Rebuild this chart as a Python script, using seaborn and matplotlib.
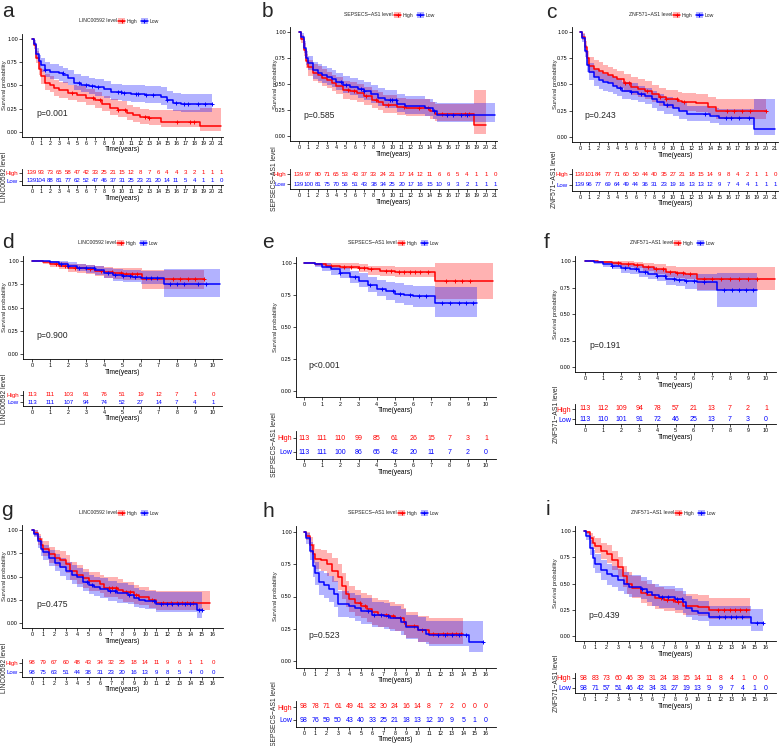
import numpy as np
import pandas as pd
import matplotlib
matplotlib.use('Agg')
import matplotlib.pyplot as plt
from matplotlib.patches import Patch
from matplotlib.lines import Line2D
from matplotlib.legend_handler import HandlerTuple
import seaborn as sns

sns.set_theme(style='ticks')
plt.rcParams['font.family'] = ['Liberation Sans', 'DejaVu Sans']

W, H = 780, 746
RED = '#FF0000'
BLUE = '#0000FF'

# ---- survival curves: (time, surv, lower, upper) ----
a_high = [(0, 1, 1, 1), (0.2, 0.93, 0.89, 0.97), (0.5, 0.80, 0.74, 0.87), (0.8, 0.68, 0.61, 0.76),
          (1.0, 0.60, 0.52, 0.68), (1.5, 0.53, 0.45, 0.62), (2.0, 0.51, 0.43, 0.60), (2.5, 0.47, 0.39, 0.56),
          (3.0, 0.45, 0.37, 0.54), (4.0, 0.42, 0.34, 0.51), (5.0, 0.40, 0.32, 0.49), (6.0, 0.37, 0.29, 0.46),
          (7.0, 0.34, 0.26, 0.43), (7.8, 0.30, 0.22, 0.39), (8.7, 0.26, 0.18, 0.35), (9.5, 0.24, 0.16, 0.33),
          (10.5, 0.20, 0.13, 0.29), (11.2, 0.18, 0.11, 0.27), (12.0, 0.16, 0.09, 0.25), (13.0, 0.15, 0.08, 0.24),
          (14.3, 0.11, 0.05, 0.24), (18.7, 0.06, 0.01, 0.26), (21.0, 0.06, 0.01, 0.26)]
a_low = [(0, 1, 1, 1), (0.2, 0.95, 0.92, 0.99), (0.5, 0.84, 0.78, 0.90), (0.8, 0.76, 0.69, 0.83),
         (1.0, 0.72, 0.65, 0.79), (1.5, 0.67, 0.59, 0.75), (2.0, 0.65, 0.57, 0.73), (3.0, 0.63, 0.55, 0.71),
         (3.5, 0.61, 0.53, 0.69), (4.0, 0.58, 0.50, 0.67), (4.7, 0.53, 0.45, 0.62), (5.5, 0.51, 0.43, 0.60),
         (6.3, 0.49, 0.41, 0.58), (7.0, 0.48, 0.39, 0.57), (8.0, 0.46, 0.37, 0.55), (8.8, 0.43, 0.34, 0.52),
         (10.0, 0.42, 0.33, 0.51), (11.0, 0.41, 0.32, 0.50), (12.5, 0.40, 0.31, 0.49), (14.3, 0.38, 0.29, 0.48),
         (15.0, 0.34, 0.25, 0.44), (15.7, 0.31, 0.22, 0.42), (16.5, 0.30, 0.21, 0.41), (20.0, 0.30, 0.21, 0.41)]
b_high = [(0, 1, 1, 1), (0.2, 0.93, 0.89, 0.97), (0.5, 0.83, 0.77, 0.89), (0.8, 0.72, 0.65, 0.79),
          (1.0, 0.66, 0.58, 0.73), (1.5, 0.61, 0.53, 0.69), (2.0, 0.59, 0.51, 0.67), (2.5, 0.56, 0.48, 0.64),
          (3.0, 0.54, 0.46, 0.62), (3.5, 0.51, 0.43, 0.59), (4.0, 0.48, 0.40, 0.57), (4.7, 0.44, 0.36, 0.53),
          (5.5, 0.43, 0.35, 0.52), (6.2, 0.41, 0.33, 0.50), (7.0, 0.38, 0.30, 0.47), (7.8, 0.35, 0.27, 0.44),
          (8.5, 0.33, 0.25, 0.42), (9.0, 0.30, 0.22, 0.39), (10.5, 0.28, 0.20, 0.37), (11.5, 0.27, 0.19, 0.36),
          (14.0, 0.24, 0.16, 0.33), (14.6, 0.21, 0.14, 0.31), (18.7, 0.11, 0.02, 0.44), (20.0, 0.11, 0.02, 0.44)]
b_low = [(0, 1, 1, 1), (0.2, 0.95, 0.92, 0.99), (0.5, 0.85, 0.80, 0.91), (0.8, 0.75, 0.68, 0.82),
         (1.0, 0.70, 0.63, 0.77), (1.5, 0.63, 0.55, 0.71), (2.0, 0.61, 0.53, 0.69), (2.5, 0.59, 0.51, 0.67),
         (3.0, 0.57, 0.49, 0.65), (3.5, 0.55, 0.47, 0.63), (4.0, 0.52, 0.44, 0.61), (4.7, 0.49, 0.41, 0.58),
         (5.5, 0.47, 0.39, 0.56), (6.3, 0.45, 0.37, 0.54), (7.0, 0.43, 0.35, 0.52), (7.7, 0.40, 0.32, 0.49),
         (8.5, 0.37, 0.29, 0.46), (9.2, 0.35, 0.27, 0.44), (10.5, 0.31, 0.23, 0.40), (11.3, 0.29, 0.21, 0.38),
         (13.5, 0.27, 0.19, 0.36), (14.3, 0.24, 0.16, 0.33), (14.8, 0.20, 0.13, 0.32), (21.0, 0.20, 0.13, 0.32)]
c_high = [(0, 1, 1, 1), (0.2, 0.95, 0.92, 0.99), (0.5, 0.86, 0.80, 0.91), (0.8, 0.75, 0.68, 0.82),
          (1.0, 0.68, 0.61, 0.76), (1.5, 0.65, 0.57, 0.73), (2.0, 0.63, 0.55, 0.71), (2.5, 0.61, 0.53, 0.69),
          (3.0, 0.59, 0.51, 0.67), (3.5, 0.57, 0.49, 0.65), (4.0, 0.55, 0.47, 0.63), (4.7, 0.51, 0.43, 0.60),
          (5.5, 0.48, 0.40, 0.57), (6.2, 0.46, 0.38, 0.55), (7.0, 0.44, 0.36, 0.53), (7.7, 0.41, 0.33, 0.50),
          (8.5, 0.38, 0.30, 0.47), (9.2, 0.36, 0.28, 0.45), (10.5, 0.34, 0.26, 0.43), (11.0, 0.33, 0.25, 0.42),
          (12.5, 0.32, 0.24, 0.41), (13.8, 0.29, 0.21, 0.38), (14.6, 0.25, 0.17, 0.36), (20.0, 0.25, 0.17, 0.36)]
c_low = [(0, 1, 1, 1), (0.2, 0.94, 0.90, 0.98), (0.5, 0.82, 0.76, 0.88), (0.8, 0.69, 0.62, 0.76),
         (1.0, 0.62, 0.54, 0.70), (1.5, 0.57, 0.49, 0.65), (2.0, 0.54, 0.46, 0.62), (2.5, 0.52, 0.44, 0.60),
         (3.0, 0.51, 0.43, 0.59), (3.5, 0.49, 0.41, 0.57), (4.0, 0.47, 0.39, 0.55), (4.5, 0.44, 0.36, 0.52),
         (5.5, 0.43, 0.35, 0.51), (6.2, 0.41, 0.33, 0.49), (7.0, 0.39, 0.31, 0.47), (7.7, 0.36, 0.28, 0.44),
         (8.3, 0.33, 0.25, 0.41), (9.0, 0.30, 0.22, 0.38), (10.0, 0.28, 0.20, 0.36), (10.7, 0.25, 0.17, 0.33),
         (11.5, 0.22, 0.15, 0.30), (14.0, 0.20, 0.13, 0.28), (15.0, 0.18, 0.11, 0.27), (18.7, 0.08, 0.02, 0.36),
         (21.0, 0.08, 0.02, 0.36)]
d_high = [(0, 1, 1, 1), (0.6, 0.99, 0.97, 1.0), (1.0, 0.97, 0.94, 1.0), (1.5, 0.95, 0.91, 0.99),
          (2.0, 0.93, 0.88, 0.97), (2.5, 0.92, 0.87, 0.97), (3.0, 0.91, 0.86, 0.96), (3.5, 0.89, 0.84, 0.95),
          (4.0, 0.88, 0.82, 0.94), (4.5, 0.87, 0.81, 0.93), (5.0, 0.86, 0.80, 0.93), (6.1, 0.81, 0.70, 0.90),
          (9.5, 0.81, 0.70, 0.90)]
d_low = [(0, 1, 1, 1), (1.0, 0.99, 0.97, 1.0), (1.5, 0.97, 0.94, 1.0), (2.0, 0.95, 0.92, 0.99),
         (2.5, 0.93, 0.89, 0.97), (3.0, 0.92, 0.87, 0.96), (3.5, 0.90, 0.85, 0.95), (4.0, 0.87, 0.82, 0.93),
         (4.5, 0.85, 0.79, 0.91), (5.0, 0.84, 0.78, 0.90), (5.5, 0.83, 0.77, 0.90), (6.0, 0.82, 0.75, 0.89),
         (7.3, 0.75, 0.61, 0.91), (10.4, 0.75, 0.61, 0.91)]
e_high = [(0, 1, 1, 1), (0.6, 0.99, 0.98, 1.0), (1.2, 0.98, 0.96, 1.0), (2.0, 0.97, 0.95, 1.0),
          (3.0, 0.96, 0.93, 0.99), (3.5, 0.95, 0.91, 0.98), (4.2, 0.94, 0.90, 0.98), (5.0, 0.93, 0.89, 0.97),
          (7.2, 0.86, 0.72, 1.0), (10.4, 0.86, 0.72, 1.0)]
e_low = [(0, 1, 1, 1), (0.6, 0.99, 0.97, 1.0), (1.0, 0.97, 0.94, 1.0), (1.5, 0.95, 0.91, 0.98),
         (2.0, 0.92, 0.88, 0.96), (2.5, 0.89, 0.84, 0.94), (3.0, 0.86, 0.81, 0.92), (3.5, 0.83, 0.77, 0.89),
         (4.0, 0.80, 0.74, 0.87), (4.5, 0.78, 0.71, 0.85), (5.0, 0.76, 0.69, 0.84), (5.5, 0.75, 0.67, 0.83),
         (6.0, 0.74, 0.66, 0.82), (7.2, 0.69, 0.58, 0.81), (9.5, 0.69, 0.58, 0.81)]
f_high = [(0, 1, 1, 1), (0.7, 0.99, 0.98, 1.0), (1.5, 0.98, 0.96, 1.0), (2.0, 0.97, 0.94, 1.0),
          (2.7, 0.96, 0.93, 0.99), (3.2, 0.94, 0.91, 0.98), (3.8, 0.92, 0.88, 0.97), (4.5, 0.90, 0.85, 0.95),
          (5.0, 0.89, 0.84, 0.94), (5.5, 0.88, 0.83, 0.94), (6.2, 0.83, 0.73, 0.94), (10.5, 0.83, 0.73, 0.94)]
f_low = [(0, 1, 1, 1), (0.5, 0.99, 0.97, 1.0), (1.0, 0.97, 0.94, 1.0), (1.5, 0.95, 0.92, 0.99),
         (2.0, 0.93, 0.89, 0.97), (2.5, 0.92, 0.88, 0.96), (3.0, 0.90, 0.85, 0.95), (3.5, 0.88, 0.83, 0.94),
         (4.0, 0.86, 0.81, 0.92), (4.5, 0.83, 0.77, 0.90), (5.0, 0.82, 0.76, 0.89), (5.5, 0.81, 0.74, 0.88),
         (6.2, 0.80, 0.72, 0.88), (7.3, 0.73, 0.57, 0.89), (9.5, 0.73, 0.57, 0.89)]
g_high = [(0, 1, 1, 1), (0.2, 0.97, 0.94, 1.0), (0.5, 0.90, 0.84, 0.96), (0.8, 0.84, 0.77, 0.91),
          (1.0, 0.80, 0.72, 0.88), (1.5, 0.74, 0.65, 0.82), (2.0, 0.70, 0.61, 0.79), (2.5, 0.68, 0.59, 0.77),
          (3.0, 0.63, 0.54, 0.73), (3.4, 0.56, 0.46, 0.66), (4.0, 0.52, 0.42, 0.62), (4.5, 0.48, 0.38, 0.58),
          (5.0, 0.45, 0.35, 0.55), (6.0, 0.42, 0.32, 0.52), (6.4, 0.38, 0.28, 0.49), (7.6, 0.36, 0.26, 0.47),
          (8.0, 0.33, 0.23, 0.44), (9.0, 0.30, 0.20, 0.41), (9.5, 0.28, 0.19, 0.39), (10.3, 0.25, 0.16, 0.36),
          (11.0, 0.22, 0.14, 0.34), (15.7, 0.22, 0.14, 0.34)]
g_low = [(0, 1, 1, 1), (0.2, 0.96, 0.92, 1.0), (0.5, 0.88, 0.81, 0.94), (0.8, 0.80, 0.72, 0.88),
         (1.0, 0.76, 0.68, 0.84), (1.5, 0.70, 0.61, 0.79), (2.0, 0.65, 0.56, 0.74), (2.5, 0.60, 0.51, 0.70),
         (3.0, 0.56, 0.46, 0.66), (3.5, 0.52, 0.42, 0.62), (4.0, 0.49, 0.39, 0.59), (4.5, 0.44, 0.34, 0.55),
         (5.0, 0.41, 0.31, 0.52), (5.5, 0.39, 0.29, 0.50), (6.0, 0.37, 0.27, 0.48), (6.7, 0.34, 0.24, 0.45),
         (7.5, 0.32, 0.22, 0.43), (8.5, 0.30, 0.20, 0.41), (9.0, 0.27, 0.17, 0.38), (9.5, 0.25, 0.16, 0.36),
         (10.0, 0.24, 0.15, 0.35), (11.0, 0.20, 0.12, 0.33), (14.6, 0.14, 0.05, 0.33), (15.0, 0.14, 0.05, 0.33)]
h_high = [(0, 1, 1, 1), (0.2, 0.97, 0.94, 1.0), (0.5, 0.90, 0.84, 0.96), (0.8, 0.83, 0.76, 0.91),
          (1.0, 0.79, 0.71, 0.87), (1.5, 0.78, 0.70, 0.86), (2.0, 0.75, 0.66, 0.84), (2.5, 0.70, 0.61, 0.80),
          (3.0, 0.65, 0.55, 0.75), (3.3, 0.58, 0.48, 0.68), (3.7, 0.52, 0.42, 0.62), (4.0, 0.48, 0.38, 0.58),
          (4.5, 0.45, 0.35, 0.55), (5.0, 0.43, 0.33, 0.53), (5.5, 0.40, 0.30, 0.51), (6.0, 0.38, 0.28, 0.49),
          (6.5, 0.36, 0.26, 0.47), (7.5, 0.35, 0.25, 0.46), (8.0, 0.33, 0.23, 0.44), (8.8, 0.30, 0.20, 0.41),
          (9.0, 0.27, 0.18, 0.38), (10.0, 0.24, 0.15, 0.35), (11.0, 0.21, 0.13, 0.33), (14.0, 0.21, 0.13, 0.33)]
h_low = [(0, 1, 1, 1), (0.2, 0.95, 0.91, 0.99), (0.5, 0.85, 0.78, 0.92), (0.8, 0.74, 0.65, 0.82),
         (1.0, 0.68, 0.59, 0.77), (1.3, 0.61, 0.51, 0.70), (1.8, 0.59, 0.49, 0.68), (2.2, 0.56, 0.46, 0.66),
         (2.6, 0.52, 0.42, 0.62), (3.0, 0.44, 0.34, 0.54), (4.0, 0.43, 0.33, 0.53), (4.5, 0.41, 0.31, 0.51),
         (5.0, 0.39, 0.29, 0.49), (6.0, 0.36, 0.26, 0.46), (7.0, 0.35, 0.25, 0.45), (7.6, 0.33, 0.23, 0.43),
         (8.5, 0.30, 0.20, 0.40), (9.0, 0.26, 0.17, 0.36), (10.0, 0.24, 0.15, 0.34), (10.7, 0.21, 0.13, 0.31),
         (11.0, 0.20, 0.12, 0.31), (14.5, 0.15, 0.07, 0.31), (15.7, 0.15, 0.07, 0.31)]
i_high = [(0, 1, 1, 1), (0.2, 0.99, 0.97, 1.0), (0.5, 0.93, 0.88, 0.98), (0.8, 0.89, 0.83, 0.95),
          (1.0, 0.86, 0.79, 0.93), (1.5, 0.81, 0.73, 0.89), (2.0, 0.78, 0.70, 0.87), (2.5, 0.72, 0.63, 0.81),
          (3.0, 0.66, 0.56, 0.75), (3.4, 0.57, 0.47, 0.67), (3.8, 0.50, 0.40, 0.61), (4.2, 0.46, 0.36, 0.57),
          (5.0, 0.41, 0.31, 0.52), (5.5, 0.39, 0.29, 0.50), (6.2, 0.36, 0.26, 0.47), (7.0, 0.34, 0.24, 0.45),
          (8.0, 0.32, 0.22, 0.43), (8.7, 0.29, 0.20, 0.40), (10.0, 0.28, 0.19, 0.39), (11.0, 0.25, 0.16, 0.36),
          (14.6, 0.25, 0.16, 0.36)]
i_low = [(0, 1, 1, 1), (0.2, 0.95, 0.91, 0.99), (0.5, 0.84, 0.77, 0.91), (0.8, 0.74, 0.65, 0.82),
         (1.0, 0.69, 0.60, 0.78), (1.5, 0.63, 0.53, 0.72), (2.0, 0.59, 0.49, 0.69), (2.5, 0.57, 0.47, 0.67),
         (3.0, 0.53, 0.43, 0.64), (3.5, 0.50, 0.40, 0.61), (4.0, 0.47, 0.37, 0.58), (5.0, 0.45, 0.35, 0.56),
         (5.5, 0.42, 0.32, 0.53), (6.0, 0.39, 0.29, 0.50), (6.6, 0.37, 0.27, 0.48), (8.0, 0.35, 0.25, 0.46),
         (8.7, 0.32, 0.22, 0.43), (9.0, 0.27, 0.18, 0.38), (9.5, 0.24, 0.15, 0.35), (10.0, 0.22, 0.14, 0.33),
         (11.0, 0.18, 0.10, 0.29), (14.7, 0.12, 0.05, 0.26), (15.7, 0.12, 0.05, 0.26)]

# censoring times (+ marks)
a_high_cens = [4.5, 6.8, 7.5, 9.5, 10.3, 12.6, 13.0, 16.1, 17.5, 18.0]
a_low_cens = [1.5, 3.4, 5.2, 6.0, 6.7, 7.3, 9.6, 9.9, 10.2, 11.5, 11.8, 12.7, 13.4, 15.0, 16.0, 16.9, 17.3, 18.4, 19.2, 20.0]
b_high_cens = [5.2, 5.9, 7.2, 8.3, 9.5, 11.2, 12.9, 13.8, 15.3, 17.8, 18.2]
b_low_cens = [4.5, 5.0, 6.6, 7.0, 9.7, 10.0, 10.4, 14.5, 15.8, 16.5, 17.3, 18.0]
c_high_cens = [4.8, 5.3, 7.2, 8.6, 9.3, 10.4, 11.2, 15.8, 16.6, 17.4, 18.3, 20.0]
c_low_cens = [4.3, 5.5, 6.6, 9.4, 13.5, 15.7, 16.2, 17.1, 18.2]
d_high_cens = [1.3, 1.8, 2.4, 3.2, 3.8, 4.4, 4.9, 5.2, 5.5, 5.8, 7.8, 8.2, 8.6, 9.0, 9.5]
d_low_cens = [1.6, 2.0, 2.6, 3.0, 3.4, 4.2, 4.6, 5.0, 5.4, 5.7, 6.3, 6.6, 6.9, 7.6, 8.0, 8.4, 9.2, 9.6]
e_high_cens = [1.5, 2.2, 2.6, 3.0, 3.3, 3.7, 4.5, 4.8, 5.2, 5.5, 5.8, 6.1, 6.4, 6.8, 7.8, 8.3, 8.7, 9.1]
e_low_cens = [2.0, 2.8, 3.6, 4.3, 4.9, 5.3, 5.8, 6.3, 6.7, 7.6, 8.0, 8.5, 8.9, 9.3]
f_high_cens = [1.8, 2.4, 2.9, 3.5, 3.9, 4.3, 4.7, 5.1, 5.4, 5.8, 6.6, 7.0, 7.5, 8.0, 8.5, 9.0, 9.5]
f_low_cens = [1.5, 2.2, 2.8, 3.3, 4.0, 4.4, 4.9, 5.2, 5.6, 6.0, 6.6, 7.7, 8.1, 8.5, 8.9, 9.3]
g_high_cens = [6.8, 7.1, 7.4, 8.3, 8.7, 9.2, 10.6, 11.6, 12.3, 12.8, 13.3, 13.7, 14.2]
g_low_cens = [4.9, 5.3, 6.9, 7.3, 8.6, 10.8, 11.4, 11.9, 12.4, 12.9, 13.5, 14.0, 14.8, 15.0]
h_high_cens = [4.9, 5.4, 7.2, 7.8, 8.4, 8.8, 9.7, 10.4, 11.3, 12.2, 12.6, 13.0, 13.4, 13.8]
h_low_cens = [5.6, 6.2, 6.8, 7.4, 11.8, 12.4, 13.0, 13.6, 14.2, 15.7]
i_high_cens = [6.8, 7.3, 7.8, 8.3, 11.8, 12.3, 12.8, 13.3, 13.7, 14.2]
i_low_cens = [5.1, 5.5, 6.9, 7.4, 8.2, 8.6, 11.9, 12.4, 12.9, 13.4, 13.9, 15.2, 15.7]

# numbers at risk
a_risk_high = [139, 93, 73, 65, 58, 47, 42, 33, 25, 21, 15, 12, 8, 7, 6, 4, 4, 3, 2, 1, 1, 1]
a_risk_low = [139, 104, 88, 81, 77, 62, 52, 47, 46, 37, 31, 25, 23, 21, 20, 14, 11, 5, 4, 1, 1, 0]
b_risk_high = [139, 97, 80, 71, 65, 53, 43, 37, 33, 24, 21, 17, 14, 12, 11, 6, 6, 5, 4, 1, 1, 0]
b_risk_low = [139, 100, 81, 75, 70, 56, 51, 43, 38, 34, 25, 20, 17, 16, 15, 10, 9, 3, 2, 1, 1, 1]
c_risk_high = [139, 101, 84, 77, 71, 60, 50, 44, 40, 35, 27, 21, 18, 15, 14, 9, 8, 4, 2, 1, 1, 0]
c_risk_low = [139, 96, 77, 69, 64, 49, 44, 36, 31, 23, 19, 16, 13, 13, 12, 9, 7, 4, 4, 1, 1, 1]
d_risk_high = [113, 111, 103, 91, 76, 51, 19, 12, 7, 1, 0]
d_risk_low = [113, 111, 107, 94, 74, 52, 27, 14, 7, 4, 1]
e_risk_high = [113, 111, 110, 99, 85, 61, 26, 15, 7, 3, 1]
e_risk_low = [113, 111, 100, 86, 65, 42, 20, 11, 7, 2, 0]
f_risk_high = [113, 112, 109, 94, 78, 57, 21, 13, 7, 2, 1]
f_risk_low = [113, 110, 101, 91, 72, 46, 25, 13, 7, 3, 0]
g_risk_high = [98, 79, 67, 60, 48, 43, 34, 32, 25, 18, 14, 11, 9, 6, 1, 1, 0]
g_risk_low = [98, 75, 63, 51, 44, 38, 31, 23, 20, 16, 13, 9, 8, 5, 4, 0, 0]
h_risk_high = [98, 78, 71, 61, 49, 41, 32, 30, 24, 16, 14, 8, 7, 2, 0, 0, 0]
h_risk_low = [98, 76, 59, 50, 43, 40, 33, 25, 21, 18, 13, 12, 10, 9, 5, 1, 0]
i_risk_high = [98, 83, 73, 60, 46, 39, 31, 24, 18, 15, 14, 11, 8, 4, 1, 0, 0]
i_risk_low = [98, 71, 57, 51, 46, 42, 34, 31, 27, 19, 13, 9, 9, 7, 4, 1, 0]

genes = ['LINC00592', 'SEPSECS\u2212AS1', 'ZNF571\u2212AS1']
pvals = ['p=0.001', 'p=0.585', 'p=0.243', 'p=0.900', 'p<0.001', 'p=0.191', 'p=0.475', 'p=0.523', 'p=0.439']
letters = list('abcdefghi')
xmax = [21, 21, 21, 10, 10, 10, 16, 16, 16]

curves = [(a_high, a_low), (b_high, b_low), (c_high, c_low), (d_high, d_low), (e_high, e_low),
          (f_high, f_low), (g_high, g_low), (h_high, h_low), (i_high, i_low)]
cens = [(a_high_cens, a_low_cens), (b_high_cens, b_low_cens), (c_high_cens, c_low_cens),
        (d_high_cens, d_low_cens), (e_high_cens, e_low_cens), (f_high_cens, f_low_cens),
        (g_high_cens, g_low_cens), (h_high_cens, h_low_cens), (i_high_cens, i_low_cens)]
risks = [(a_risk_high, a_risk_low), (b_risk_high, b_risk_low), (c_risk_high, c_risk_low),
         (d_risk_high, d_risk_low), (e_risk_high, e_risk_low), (f_risk_high, f_risk_low),
         (g_risk_high, g_risk_low), (h_risk_high, h_risk_low), (i_risk_high, i_risk_low)]

# ---- layout in pixels: km box, xlim, risk box, letter pos, legend pos, label x, risk font ----
km_box = [(22, 34.3, 223, 136.6), (290, 26.8, 497, 141.2), (572, 26.75, 778, 142.25),
          (23, 256.4, 222, 358.7), (296, 256.6, 496, 397.4), (575, 255.7, 776, 372.3),
          (22, 525.4, 223, 627.7), (296, 525.5, 496, 667.5), (575, 525.75, 776, 641.25)]
xlims = [(-1.1, 21.2), (-0.96, 21.2), (-0.86, 21.3), (-0.5, 10.5), (-0.44, 10.55), (-0.55, 10.55),
         (-0.88, 16.88), (-0.7, 16.88), (-0.79, 16.88)]
risk_box = [(22, 169, 223, 185), (290, 169, 497, 189), (572, 168.5, 778, 190.5),
            (23, 391.5, 222, 405.5), (296, 431, 496, 459), (575, 404, 776, 424),
            (22, 658.5, 223, 676.5), (296, 700.5, 496, 726.5), (575, 673, 776, 693)]
letter_pos = [(2, 17), (262, 17), (546, 18), (2, 248), (262, 248), (544, 248), (1, 516), (262, 517), (546, 515)]
legend_pos = [(117, 21), (393, 15), (672, 15), (116, 243), (397, 243), (673, 243), (117, 513), (397, 513), (674, 513)]
label_x = [5, 275, 555, 5, 275, 556, 5, 275, 556]
risk_fs = [4.4, 4.4, 4.4, 4.4, 5.0, 5.0, 4.4, 5.0, 5.0]

TICK_FS = 3.9
LAB_FS = 4.8
LEG_FS = 3.7


def fbox(l, t, r, b):
    return [l / W, 1 - b / H, (r - l) / W, (b - t) / H]


def style_axis(ax):
    for s in ['top', 'right']:
        ax.spines[s].set_visible(False)
    for s in ['left', 'bottom']:
        ax.spines[s].set_linewidth(0.6)
        ax.spines[s].set_color('black')
    ax.tick_params(length=2, width=0.5, pad=1, labelsize=TICK_FS, colors='black')


fig = plt.figure(figsize=(W / 100, H / 100), dpi=100)

for k in range(9):
    gene = genes[k % 3]
    km = fig.add_axes(fbox(*km_box[k]))
    style_axis(km)
    for data, cz, col in [(curves[k][0], cens[k][0], RED), (curves[k][1], cens[k][1], BLUE)]:
        df = pd.DataFrame(data, columns=['t', 's', 'lo', 'up'])
        km.fill_between(df['t'], df['lo'], df['up'], step='post', color=col, alpha=0.3, lw=0)
        sns.lineplot(data=df, x='t', y='s', drawstyle='steps-post', color=col, lw=1.1,
                     estimator=None, sort=False, ax=km)
        idx = np.searchsorted(df['t'].values, cz, side='right') - 1
        km.plot(cz, df['s'].values[idx], '+', color=col, ms=3.5, mew=0.7)
    km.set_xlim(*xlims[k])
    km.set_ylim(-0.05, 1.05)
    km.set_xticks(range(0, xmax[k] + 1))
    km.set_yticks([0, 0.25, 0.5, 0.75, 1.0])
    km.set_yticklabels(['0.00', '0.25', '0.50', '0.75', '1.00'])
    km.set_ylabel('')
    km.set_xlabel('Time(years)', fontsize=LAB_FS, labelpad=0.5, color='black')
    km.text(0.025 * xmax[k], 0.2, pvals[k], fontsize=6.2, ha='left', va='center')
    l, t, r, b = km_box[k]
    fig.text(label_x[k] / W, 1 - (t + b) / 2 / H, 'Survival probability', rotation=90,
             fontsize=LAB_FS - 0.6, ha='center', va='center')

    # risk table
    rk = fig.add_axes(fbox(*risk_box[k]))
    style_axis(rk)
    n = xmax[k] + 1
    for row, vals, col in [(1, risks[k][0], RED), (0, risks[k][1], BLUE)]:
        for j in range(n):
            rk.text(j, row, str(vals[j]), color=col, fontsize=risk_fs[k], ha='center', va='center')
    rk.set_xlim(*xlims[k])
    rk.set_ylim(-0.5, 1.5)
    rk.set_xticks(range(0, n))
    rk.set_yticks([1, 0])
    rk.set_yticklabels(['High', 'Low'])
    rk.tick_params(axis='y', labelsize=risk_fs[k])
    for lab, col in zip(rk.get_yticklabels(), [RED, BLUE]):
        lab.set_color(col)
    rk.set_xlabel('Time(years)', fontsize=LAB_FS, labelpad=0.5, color='black')
    l, t, r, b = risk_box[k]
    fig.text(label_x[k] / W, 1 - (t + b) / 2 / H, gene + ' level', rotation=90,
             fontsize=4.9, ha='center', va='center')

    # panel letter
    lx, ly = letter_pos[k]
    fig.text(lx / W, 1 - ly / H, letters[k], fontsize=15, ha='left', va='baseline')

    # legend on top
    gx, gy = legend_pos[k]
    fig.text(gx / W, 1 - gy / H, gene + ' level', fontsize=LEG_FS, ha='right', va='center')
    handles = [(Patch(facecolor=c, alpha=0.3, lw=0), Line2D([], [], color=c, lw=1.1, marker='+', ms=3.5, mew=0.7))
               for c in [RED, BLUE]]
    fig.legend(handles, ['High', 'Low'], loc='center left', bbox_to_anchor=((gx + 1) / W, 1 - gy / H),
               ncol=2, frameon=False, fontsize=LEG_FS, handlelength=1.4, handleheight=1.2,
               handletextpad=0.3, columnspacing=0.6, borderpad=0, borderaxespad=0,
               handler_map={tuple: HandlerTuple(ndivide=1)})

fig.savefig('out.png', dpi=100)
